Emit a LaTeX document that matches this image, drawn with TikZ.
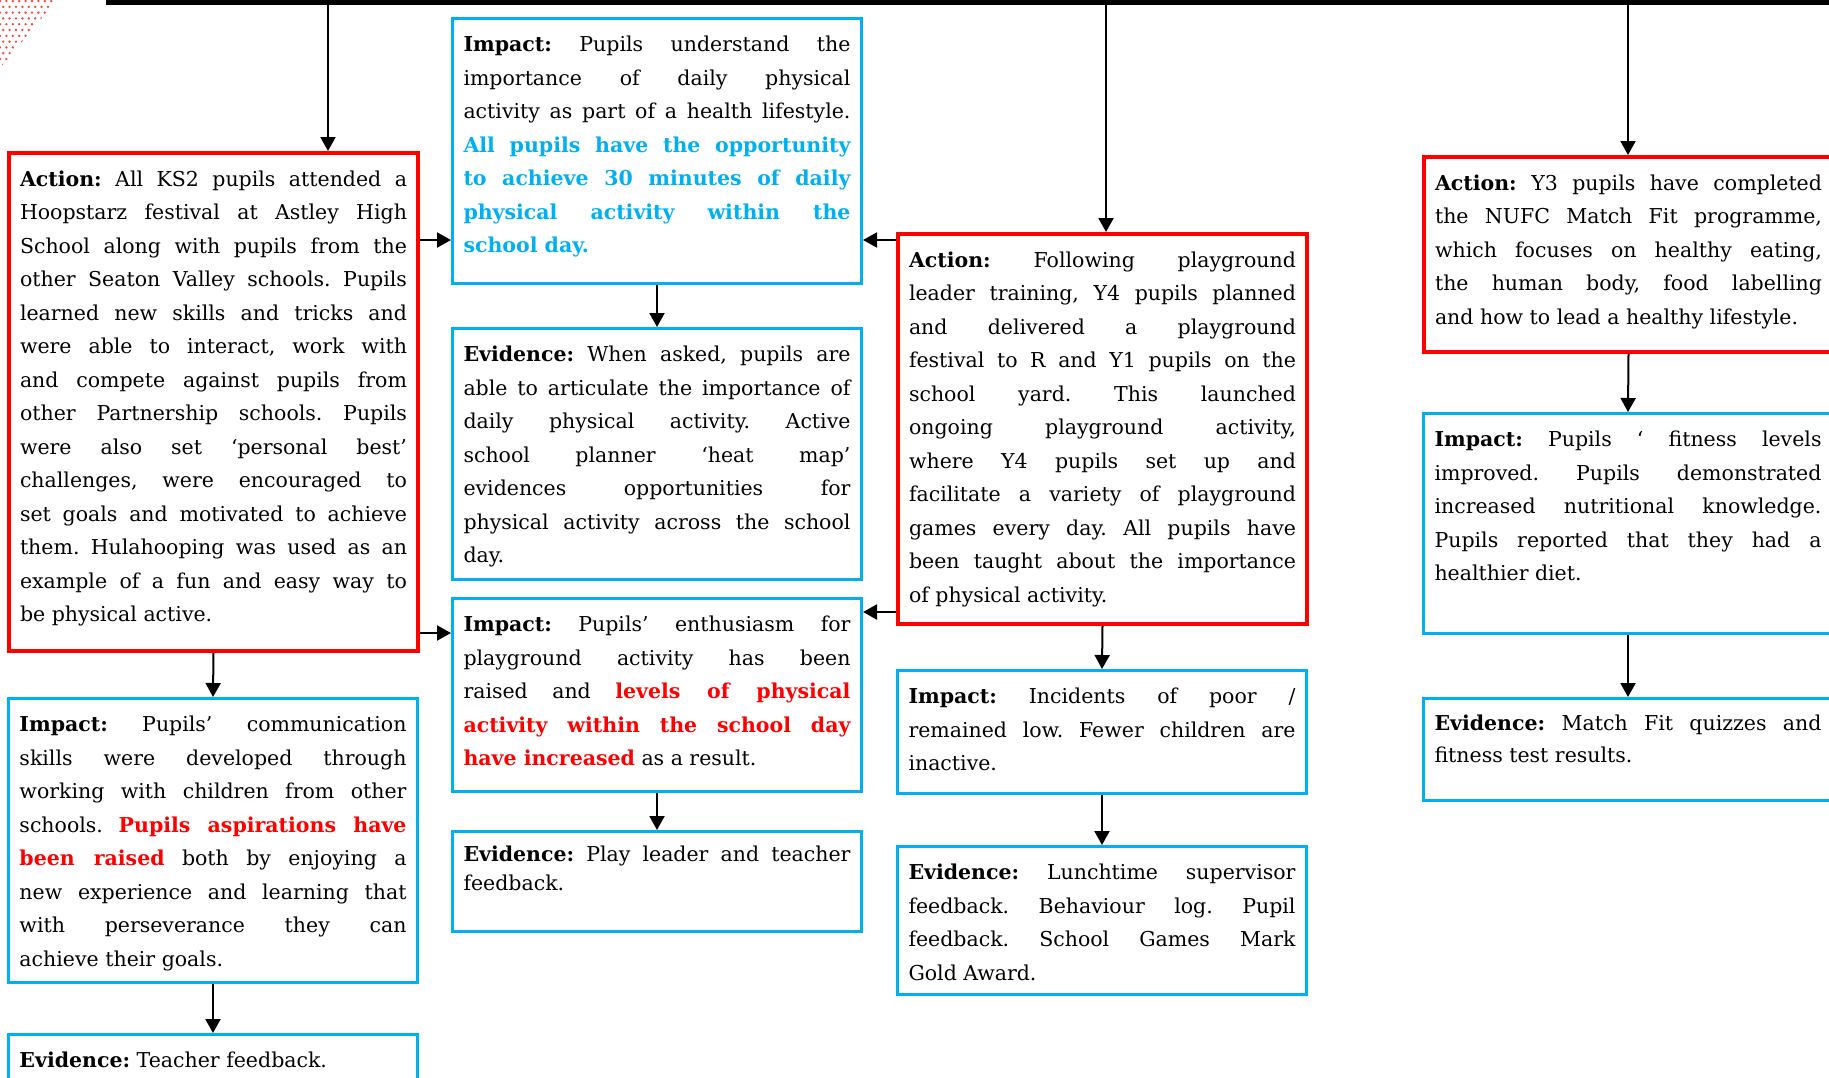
\documentclass[tikz,border=0pt]{standalone}
\usepackage{fontspec}
\setmainfont{DejaVu Serif}
\usepackage{xcolor}
\usetikzlibrary{arrows.meta, positioning}

\definecolor{actred}{HTML}{FF0000}
\definecolor{impblue}{HTML}{00B0F0}

\hyphenpenalty=10000
\tolerance=10000
\hbadness=10000
\vbadness=10000
\frenchspacing

\newcommand{\cellbox}[2]{\parbox[t][#1][t]{387pt}{\strut#2}}
\newcommand{\lbl}[1]{\textbf{#1}}
\newcommand{\hlred}[1]{\textcolor{actred}{\textbf{#1}}}
\newcommand{\hlblue}[1]{\textcolor{impblue}{\textbf{#1}}}

\begin{document}
\begin{tikzpicture}[x=1pt, y=-1pt,
    every node/.style={font=\fontsize{20.5}{33.5}\selectfont, inner xsep=11pt, inner ysep=10pt, anchor=north west},
    actbox/.style={draw=actred, line width=4pt},
    impbox/.style={draw=impblue, line width=3pt},
    arr/.style={-{Triangle[length=14pt,width=15pt]}, line width=2pt}]
    \useasboundingbox (0,0) rectangle (1829,1077);

    % corner dots and top bar
    \begin{scope}
        \clip (0,0) -- (57,0) -- (0,68) -- cycle;
        \foreach \r in {0,...,11}
            \foreach \c in {0,...,9}
                \fill[actred!75] ({\c*6.4+3.2*mod(\r,2)},{1+\r*5.8}) circle[radius=1.3pt];
    \end{scope}
    \fill (106,-2) rectangle (1829,4.5);
    \coordinate (bar1) at (328,4);
    \coordinate (bar3) at (1106,4);
    \coordinate (bar4) at (1628,4);

    % column 1
    \node[actbox] (act1) at (7,151) {\cellbox{478pt}{\lbl{Action:} All KS2 pupils attended a\linebreak
        Hoopstarz festival at Astley High\linebreak
        School along with pupils from the\linebreak
        other Seaton Valley schools. Pupils\linebreak
        learned new skills and tricks and\linebreak
        were able to interact, work with\linebreak
        and compete against pupils from\linebreak
        other Partnership schools. Pupils\linebreak
        were also set ‘personal best’\linebreak
        challenges, were encouraged to\linebreak
        set goals and motivated to achieve\linebreak
        them. Hulahooping was used as an\linebreak
        example of a fun and easy way to\linebreak
        be physical active.}};
    \node[impbox] (imp1) at (7,697) {\cellbox{264pt}{\lbl{Impact:} Pupils’ communication\linebreak
        skills were developed through\linebreak
        working with children from other\linebreak
        schools. \hlred{Pupils aspirations have\linebreak been raised} both by enjoying a\linebreak
        new experience and learning that\linebreak
        with perseverance they can\linebreak
        achieve their goals.}};
    \node[impbox] (evi1) at (7,1033) {\cellbox{100pt}{\lbl{Evidence:} Teacher feedback.}};

    % column 2
    \node[impbox] (imp2a) at (451,17) {\cellbox{245pt}{\lbl{Impact:} Pupils understand the\linebreak
        importance of daily physical\linebreak
        activity as part of a health lifestyle.\linebreak
        \hlblue{All pupils have the opportunity\linebreak to achieve 30 minutes of daily\linebreak
        physical activity within the\linebreak school day.}}};
    \node[impbox] (evi2a) at (451,327) {\cellbox{231pt}{\lbl{Evidence:} When asked, pupils are\linebreak
        able to articulate the importance of\linebreak
        daily physical activity. Active\linebreak
        school planner ‘heat map’\linebreak
        evidences opportunities for\linebreak
        physical activity across the school\linebreak
        day.}};
    \node[impbox] (imp2b) at (451,597) {\cellbox{173pt}{\lbl{Impact:} Pupils’ enthusiasm for\linebreak
        playground activity has been\linebreak
        raised and \hlred{levels of physical\linebreak activity within the school day\linebreak
        have increased} as a result.}};
    \node[impbox, font=\fontsize{20.5}{29}\selectfont] (evi2b) at (451,830) {\cellbox{80pt}{\lbl{Evidence:} Play leader and teacher\linebreak
        feedback.}};

    % column 3
    \node[actbox] (act3) at (896,232) {\cellbox{370pt}{\lbl{Action:} Following playground\linebreak
        leader training, Y4 pupils planned\linebreak
        and delivered a playground\linebreak
        festival to R and Y1 pupils on the\linebreak
        school yard. This launched\linebreak
        ongoing playground activity,\linebreak
        where Y4 pupils set up and\linebreak
        facilitate a variety of playground\linebreak
        games every day. All pupils have\linebreak
        been taught about the importance\linebreak
        of physical activity.}};
    \node[impbox] (imp3) at (896,669) {\cellbox{103pt}{\lbl{Impact:} Incidents of poor /\linebreak
        remained low. Fewer children are\linebreak
        inactive.}};
    \node[impbox] (evi3) at (896,845) {\cellbox{128pt}{\lbl{Evidence:} Lunchtime supervisor\linebreak
        feedback. Behaviour log. Pupil\linebreak
        feedback. School Games Mark\linebreak
        Gold Award.}};

    % column 4
    \node[actbox] (act4) at (1422,155) {\cellbox{175pt}{\lbl{Action:} Y3 pupils have completed\linebreak
        the NUFC Match Fit programme,\linebreak
        which focuses on healthy eating,\linebreak
        the human body, food labelling\linebreak
        and how to lead a healthy lifestyle.}};
    \node[impbox] (imp4) at (1422,412) {\cellbox{200pt}{\lbl{Impact:} Pupils ‘ fitness levels\linebreak
        improved. Pupils demonstrated\linebreak
        increased nutritional knowledge.\linebreak
        Pupils reported that they had a\linebreak
        healthier diet.}};
    \node[impbox, font=\fontsize{20.5}{31.5}\selectfont] (evi4) at (1422,697) {\cellbox{82pt}{\lbl{Evidence:} Match Fit quizzes and\linebreak
        fitness test results.}};

    % arrows
    \coordinate (link1) at (430,240);
    \coordinate (link2) at (430,633);
    \coordinate (link3) at (880,612);
    \draw[arr] (bar1) -- (bar1 |- act1.north);
    \draw[arr] (bar3) -- (bar3 |- act3.north);
    \draw[arr] (bar4) -- (bar4 |- act4.north);
    \draw[arr] (act1.south) -- (imp1.north);
    \draw[arr] (imp1.south) -- (evi1.north);
    \draw[arr] (imp2a.south) -- (evi2a.north);
    \draw[arr] (imp2b.south) -- (evi2b.north);
    \draw[arr] (act3.south) -- (imp3.north);
    \draw[arr] (imp3.south) -- (evi3.north);
    \draw[arr] (act4.south) -- (imp4.north);
    \draw[arr] (imp4.south) -- (evi4.north);
    \draw[arr] (act1.east |- link1) -- (imp2a.west |- link1);
    \draw[arr] (act1.east |- link2) -- (imp2b.west |- link2);
    \draw[arr] (act3.west |- link1) -- (imp2a.east |- link1);
    \draw[arr] (act3.west |- link3) -- (imp2b.east |- link3);
\end{tikzpicture}
\end{document}
